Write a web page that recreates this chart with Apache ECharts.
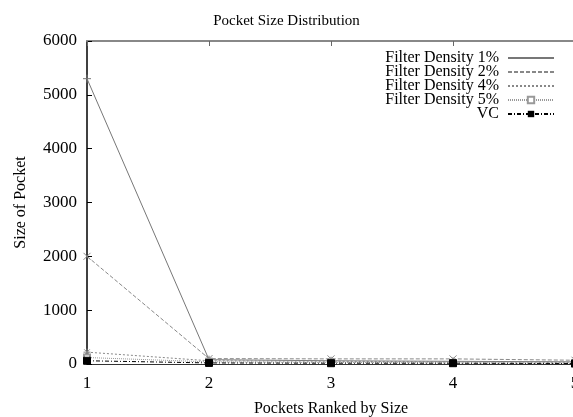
<!DOCTYPE html>
<html>
<head>
<meta charset="utf-8">
<script src="https://cdn.jsdelivr.net/npm/echarts@6/dist/echarts.min.js"></script>
<style>
  html, body { margin: 0; padding: 0; background: #fff; }
  #chart { width: 573px; height: 417px; }
</style>
</head>
<body>
<div id="chart"></div>
<script>
// pocket rank on the x axis
const ranks = [1, 2, 3, 4, 5]

// pocket sizes
const density1 = [5300, 80, 60, 50, 40]
const density2 = [2000, 100, 95, 95, 70]
const density4 = [220, 60, 50, 40, 30]
const density5 = [120, 40, 30, 20, 10]
const vc = [60, 20, 15, 15, 10]

const pairs = (vals) => ranks.map((r, i) => [r, vals[i]])

const serif = 'Liberation Serif'
const myChart = echarts.init(document.getElementById('chart'))

const mkSeries = (name, vals, color, type, symbol, size) => ({
    name: name,
    type: 'line',
    data: pairs(vals),
    symbol: symbol,
    symbolSize: size,
    showSymbol: true,
    lineStyle: { color: color, width: 1, type: type },
    itemStyle: { color: color, borderColor: color },
    animation: false
})

const option = {
    title: {
        text: 'Pocket Size Distribution',
        left: 'center',
        top: 9,
        textStyle: { fontFamily: serif, fontSize: 15, fontWeight: 'normal', color: '#000' }
    },
    legend: {
        right: 13,
        top: 45,
        orient: 'vertical',
        align: 'right',
        itemWidth: 46,
        itemHeight: 8,
        itemGap: -2,
        textStyle: { fontFamily: serif, fontSize: 16, color: '#000', padding: [0, 4, 0, 0] },
        data: ['Filter Density 1%', 'Filter Density 2%', 'Filter Density 4%', 'Filter Density 5%', 'VC']
    },
    grid: { left: 87, right: -2, top: 41, bottom: 53, outerBoundsMode: 'none' },
    xAxis: [{
        type: 'value',
        min: 1,
        max: 5,
        interval: 1,
        name: 'Pockets Ranked by Size',
        nameLocation: 'middle',
        nameGap: 37,
        nameTextStyle: { fontFamily: serif, fontSize: 16, color: '#000' },
        axisLine: { lineStyle: { color: '#333', width: 1 } },
        axisTick: { inside: true, length: 5, lineStyle: { color: '#333' } },
        axisLabel: { fontFamily: serif, fontSize: 17, color: '#000', margin: 11 },
        splitLine: { show: false }
    }, {
        // top frame with inward ticks
        type: 'value',
        position: 'top',
        min: 1,
        max: 5,
        interval: 1,
        axisLine: { show: true, lineStyle: { color: '#888', width: 2 } },
        axisTick: { inside: true, length: 5, lineStyle: { color: '#666' } },
        axisLabel: { show: false },
        splitLine: { show: false }
    }],
    yAxis: {
        type: 'value',
        min: 0,
        max: 6000,
        interval: 1000,
        name: 'Size of Pocket',
        nameLocation: 'middle',
        nameGap: 58,
        nameTextStyle: { fontFamily: serif, fontSize: 16, color: '#000' },
        axisLine: { show: true, lineStyle: { color: '#000', width: 1.5 } },
        axisTick: { inside: true, length: 5, lineStyle: { color: '#000' } },
        axisLabel: { fontFamily: serif, fontSize: 17, color: '#000', margin: 10, formatter: (v) => String(v) },
        splitLine: { show: false }
    },
    series: [
        mkSeries('Filter Density 1%', density1, '#777', 'solid', 'path://M0,5L10,5M5,0L5,10', 8),
        mkSeries('Filter Density 2%', density2, '#888', [4, 2], 'path://M0,0L10,10M10,0L0,10', 7),
        mkSeries('Filter Density 4%', density4, '#888', [2, 2], 'path://M0,5L10,5M5,0L5,10M1,1L9,9M9,1L1,9', 7),
        mkSeries('Filter Density 5%', density5, '#999', [1, 1], 'emptyRect', 6),
        mkSeries('VC', vc, '#000', [4, 2, 1, 2], 'rect', 7)
    ]
}

myChart.setOption(option)
</script>
</body>
</html>
